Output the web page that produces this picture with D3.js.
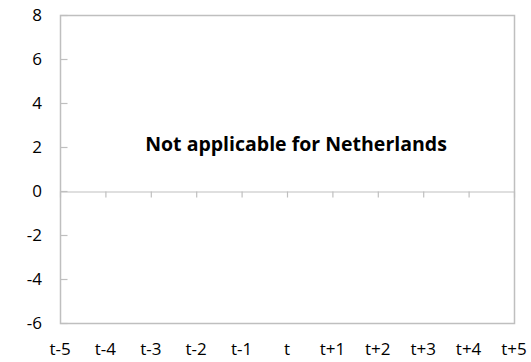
<!DOCTYPE html>
<html><head><meta charset="utf-8">
<script src="https://cdn.jsdelivr.net/npm/d3@7/dist/d3.min.js"></script>
<style>body{margin:0;background:#fff}svg{display:block}text{font-family:"Open Sans",sans-serif}</style>
</head><body><svg id="c" width="531" height="362"></svg>
<script>
const categories = ["t-5","t-4","t-3","t-2","t-1","t","t+1","t+2","t+3","t+4","t+5"];
const yTicks = [-6,-4,-2,0,2,4,6,8];
const yDomain = [-6, 8];
const message = "Not applicable for Netherlands";

const W = 531, H = 362;
const m = {l:60, r:17, t:15, b:39};
const svg = d3.select("#c");
const x = d3.scalePoint().domain(categories).range([m.l, W-m.r]);
const y = d3.scaleLinear().domain(yDomain).range([H-m.b, m.t]);
const grey = "#bfbfbf";

// plot frame
svg.append("rect").attr("x", m.l+0.5).attr("y", y(yDomain[1])+0.5)
  .attr("width", W-m.r-m.l).attr("height", y(yDomain[0])-y(yDomain[1]))
  .attr("fill","none").attr("stroke",grey).attr("stroke-width",1.5);

// y axis ticks (inward)
const yAx = svg.append("g").attr("transform",`translate(${m.l+0.5},0)`)
  .call(d3.axisRight(y).tickValues(yTicks).tickSize(7).tickFormat(""));
yAx.select(".domain").remove();
yAx.selectAll("line").attr("stroke",grey).attr("stroke-width",1.2);
svg.append("g").selectAll("text").data(yTicks).join("text")
  .attr("x", 42).attr("y", d=>y(d)).attr("dy","0.35em").attr("text-anchor","end")
  .attr("font-size",17).attr("fill","#000").text(d=>d);

// zero line with category ticks
const xAx = svg.append("g").attr("transform",`translate(0,${Math.round(y(0))+0.5})`)
  .call(d3.axisBottom(x).tickSize(6).tickFormat(""));
xAx.select(".domain").attr("stroke",grey).attr("stroke-width",1.2);
xAx.selectAll(".tick").filter((d,i)=>i===0||i===categories.length-1).remove();
xAx.selectAll("line").attr("stroke",grey).attr("stroke-width",1.2);

// category labels at bottom
svg.append("g").selectAll("text").data(categories).join("text")
  .attr("x", d=>x(d)).attr("y", 349).attr("dy","0.35em").attr("text-anchor","middle")
  .attr("font-size",17).attr("fill","#000").text(d=>d);

svg.append("text").attr("x", 296).attr("y", 144).attr("dy","0.35em")
  .attr("text-anchor","middle").attr("font-size",19.5).attr("font-weight","bold")
  .attr("fill","#000").text(message);
</script></body></html>
